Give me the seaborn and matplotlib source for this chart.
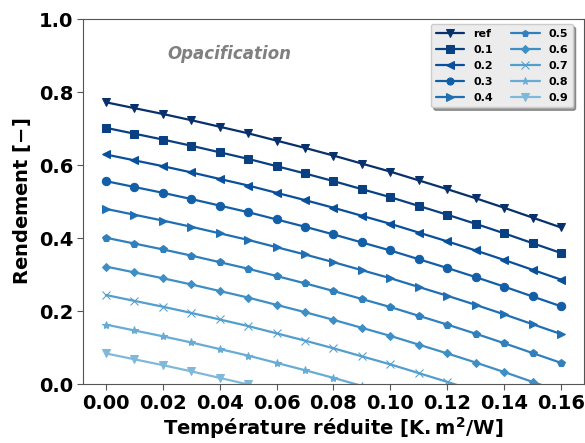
import numpy as np
import matplotlib.pyplot as plt
import seaborn as sns

sns.set_style("white")
plt.rcParams['font.family'] = ['DejaVu Sans']
plt.rcParams['font.weight'] = 'bold'
plt.rcParams['text.color'] = 'black'
plt.rcParams['axes.labelcolor'] = 'black'
plt.rcParams['xtick.labelcolor'] = 'black'
plt.rcParams['ytick.labelcolor'] = 'black'

t_red = [0.00, 0.01, 0.02, 0.03, 0.04, 0.05, 0.06, 0.07, 0.08,
         0.09, 0.10, 0.11, 0.12, 0.13, 0.14, 0.15, 0.16]

labels = ['ref', '0.1', '0.2', '0.3', '0.4', '0.5', '0.6', '0.7', '0.8', '0.9']
markers = ['v', 's', '<', 'o', '>', 'p', 'D', 'x', '*', 'v']
msizes = [6, 6, 6, 6, 6, 5.5, 4.5, 6, 6, 6]

rendement = [
    [.772, .756, .740, .723, .705, .687, .667, .647, .626, .604, .582, .558, .534, .509, .483, .456, .429],
    [.702, .686, .670, .653, .635, .617, .597, .577, .556, .534, .512, .488, .464, .439, .413, .386, .359],
    [.629, .613, .597, .580, .562, .544, .524, .504, .483, .461, .439, .415, .391, .366, .340, .313, .286],
    [.556, .540, .524, .507, .489, .471, .451, .431, .410, .388, .366, .342, .318, .293, .267, .240, .213],
    [.480, .464, .448, .431, .413, .395, .375, .355, .334, .312, .290, .266, .242, .217, .191, .164, .137],
    [.401, .385, .369, .352, .334, .316, .296, .276, .255, .233, .211, .187, .163, .138, .112, .085, .058],
    [.322, .306, .290, .273, .255, .237, .217, .197, .176, .154, .132, .108, .084, .059, .033, .006, -.021],
    [.244, .228, .212, .195, .177, .159, .139, .119, .098, .076, .054, .030, .006, -.019, -.045, -.072, -.099],
    [.163, .147, .131, .114, .096, .078, .058, .038, .017, -.005, -.027, -.051, -.075, -.100, -.126, -.153, -.180],
    [.084, .068, .052, .035, .017, -.001, -.021, -.041, -.062, -.084, -.106, -.130, -.154, -.179, -.205, -.232, -.259],
]

colors = plt.cm.Blues(np.linspace(1.0, 0.45, len(labels)))

fig, ax = plt.subplots(figsize=(5.85, 4.43), dpi=100)
fig.subplots_adjust(left=0.142, right=0.998, top=0.957, bottom=0.133)

for lab, m, ms, c, vals in zip(labels, markers, msizes, colors, rendement):
    sns.lineplot(x=t_red, y=vals, ax=ax, color=c, marker=m, markersize=ms,
                 markeredgecolor=c, linewidth=1.6, label=lab)

ax.set_ylim(0, 1.0)
ax.set_xticks([0.00, 0.02, 0.04, 0.06, 0.08, 0.10, 0.12, 0.14, 0.16])
ax.tick_params(labelsize=14, length=4, color='#555555', bottom=True, left=True, pad=3)
for lbl in ax.get_xticklabels() + ax.get_yticklabels():
    lbl.set_fontweight('bold')
for s in ax.spines.values():
    s.set_color('#555555')

ax.set_xlabel(r'Température réduite [$\mathbf{K.m^2/W}$]', fontsize=14, fontweight='bold', labelpad=2)
ax.set_ylabel(r'Rendement [$\mathbf{-}$]', fontsize=14, fontweight='bold')

ax.text(0.0434, 0.904, 'Opacification', fontsize=12, fontweight='bold',
        fontstyle='italic', color='grey', ha='center', va='center')

leg = ax.legend(ncol=2, loc='upper right', bbox_to_anchor=(0.978, 0.986),
                fontsize=8, shadow=True, facecolor='#ececec', framealpha=1,
                handlelength=2.6, columnspacing=1.6, labelspacing=0.55,
                borderaxespad=0, markerscale=0.85)
for txt in leg.get_texts():
    txt.set_fontweight('bold')

fig.savefig('out.png', dpi=100)
